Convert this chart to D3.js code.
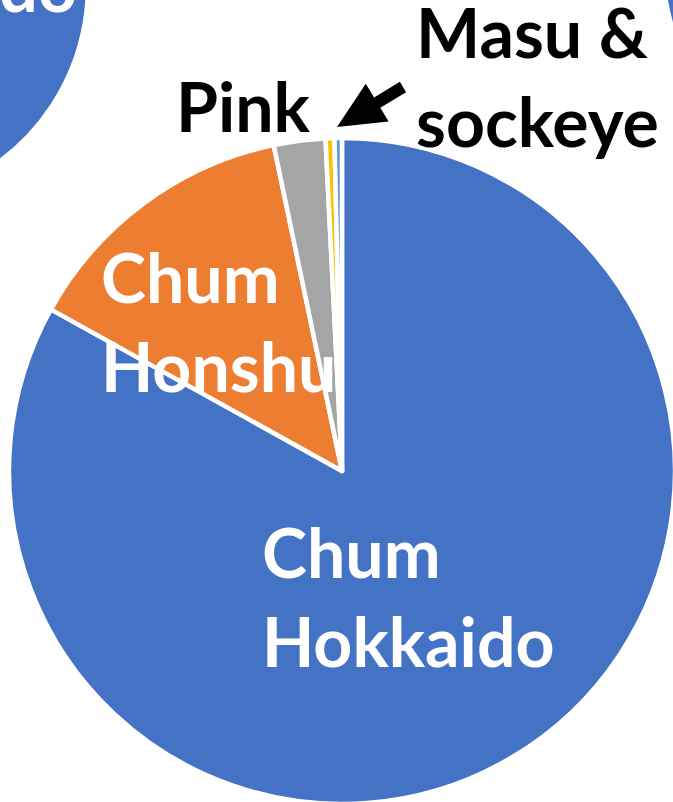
<!DOCTYPE html>
<html>
<head>
<meta charset="utf-8">
<script src="https://cdn.jsdelivr.net/npm/d3@7"></script>
<style>
  html, body { margin: 0; padding: 0; background: #fff; overflow: hidden; }
  svg { display: block; }
  .lbl { font-family: Lato, "Open Sans", sans-serif; font-weight: bold; font-size: 68px; }
</style>
</head>
<body>
<div id="chart"></div>
<script>
// Catch composition (%), slices clockwise from 12 o'clock
const categories = ["Chum Hokkaido", "Chum Honshu", "Pink", "Masu", "Sockeye"];
const shares = [83.1, 13.65, 2.5, 0.43, 0.36];
const colors = ["#4472C4", "#ED7D31", "#A5A5A5", "#FFC000", "#5B9BD5"];

const width = 673, height = 802;

const svg = d3.select("#chart")
    .append("svg")
    .attr("width", width)
    .attr("height", height);

const color = d3.scaleOrdinal().domain(categories).range(colors);

const pie = d3.pie().sort(null).value(d => d.value);
const slices = pie(categories.map((c, i) => ({ name: c, value: shares[i] })));

// draw one pie at a given centre/radius
function drawPie(cx, cy, r) {
    const arc = d3.arc().innerRadius(0).outerRadius(r);
    const g = svg.append("g").attr("transform", `translate(${cx},${cy})`);
    g.selectAll("path")
        .data(slices)
        .enter()
        .append("path")
        .attr("d", arc)
        .style("fill", d => color(d.data.name))
        .style("stroke", "#fff")
        .style("stroke-width", 4.5)
        .style("stroke-linejoin", "round");
    return g;
}

// neighbouring pies, cropped by the frame
drawPie(-130, -14, 218);
drawPie(881, -35, 218);

// main pie
drawPie(342, 471, 333);

// labels
const labels = [
    { lines: ["do"], x: 77, y: 12, fill: "#fff", anchor: "end" },
    { lines: ["Chum", "Hokkaido"], x: 262, y: 578, fill: "#fff", anchor: "start" },
    { lines: ["Chum", "Honshu"], x: 101, y: 303, fill: "#fff", anchor: "start" },
    { lines: ["Pink"], x: 176, y: 132, fill: "#000", anchor: "start" },
    { lines: ["Masu &", "sockeye"], x: 416, y: 58, fill: "#000", anchor: "start" }
];

labels.forEach(l => {
    const t = svg.append("text")
        .attr("class", "lbl")
        .attr("x", l.x)
        .attr("y", l.y)
        .attr("text-anchor", l.anchor)
        .style("fill", l.fill);
    l.lines.forEach((s, i) => {
        t.append("tspan")
            .attr("x", l.x)
            .attr("dy", i === 0 ? 0 : 89)
            .text(s);
    });
});

// arrow pointing at the tiny slices
const tip = [337, 127], tail = [403, 87];
const dx = tip[0] - tail[0], dy = tip[1] - tail[1];
const len = Math.hypot(dx, dy);
const u = [dx / len, dy / len], n = [-u[1], u[0]];
const headLen = 47, headHalf = 22, shaftHalf = 6;
const base = [tip[0] - headLen * u[0], tip[1] - headLen * u[1]];
const pt = (p, k) => [p[0] + k * n[0], p[1] + k * n[1]];
const arrowPts = [
    tip,
    pt(base, headHalf),
    pt(base, shaftHalf),
    pt(tail, shaftHalf),
    pt(tail, -shaftHalf),
    pt(base, -shaftHalf),
    pt(base, -headHalf)
];
svg.append("path")
    .attr("d", d3.line()(arrowPts) + "Z")
    .style("fill", "#000");
</script>
</body>
</html>
